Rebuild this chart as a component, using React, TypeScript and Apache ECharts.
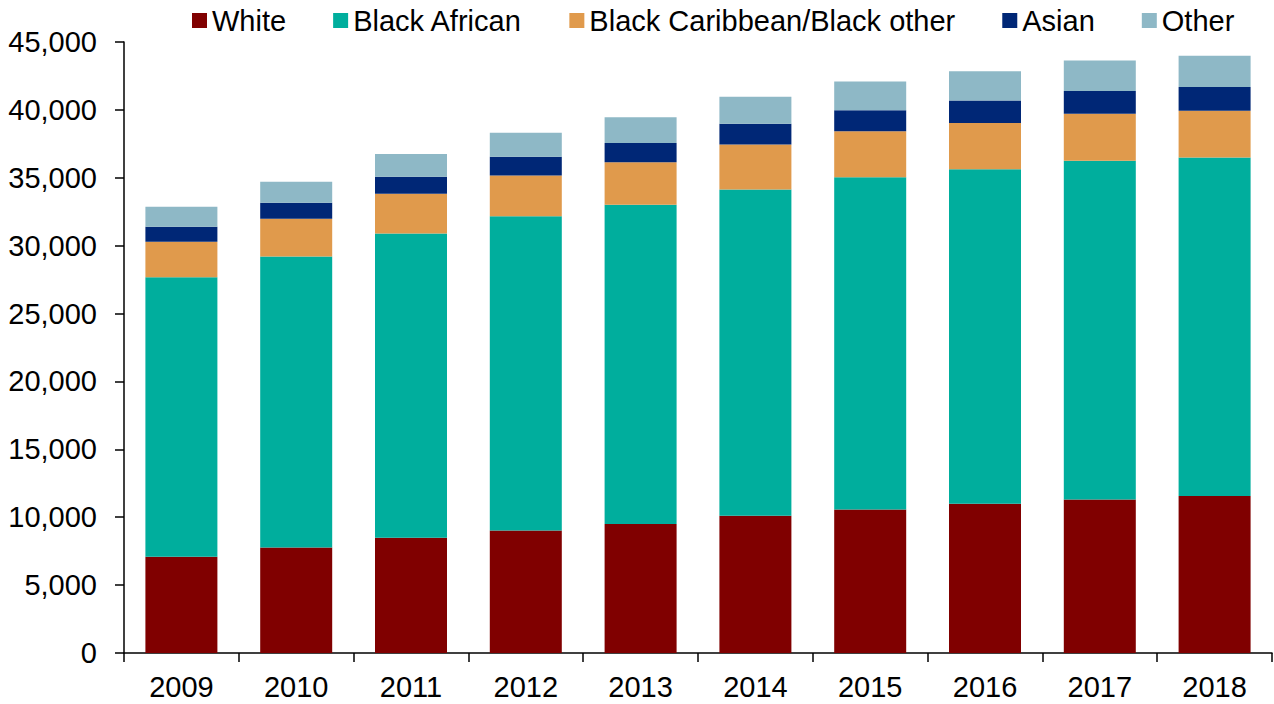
import React, { useEffect, useRef } from "react";
import * as echarts from "echarts";

const years = ["2009", "2010", "2011", "2012", "2013", "2014", "2015", "2016", "2017", "2018"];
const white = [7080, 7770, 8480, 9020, 9510, 10100, 10560, 11000, 11300, 11570];
const blackAfrican = [20590, 21430, 22420, 23140, 23500, 24040, 24470, 24630, 24950, 24920];
const blackCaribbean = [2620, 2790, 2920, 3010, 3140, 3310, 3400, 3410, 3460, 3440];
const asian = [1110, 1170, 1250, 1370, 1420, 1520, 1540, 1650, 1690, 1760];
const other = [1470, 1540, 1690, 1770, 1890, 1990, 2130, 2150, 2230, 2300];

const seriesNames = ["White", "Black African", "Black Caribbean/Black other", "Asian", "Other"];
const seriesData = [white, blackAfrican, blackCaribbean, asian, other];
const colors = ["#800000", "#00AE9D", "#E09A4C", "#002776", "#8EB8C6"];

const FONT = "'Liberation Sans', Arial, Helvetica, sans-serif";

export default function App() {
  const ref = useRef<HTMLDivElement>(null);
  useEffect(() => {
    if (!ref.current) return;
    const chart = echarts.init(ref.current, null, { renderer: "svg" });
    chart.setOption({
      animation: false,
      color: colors,
      textStyle: { fontFamily: FONT },
      legend: {
        left: 187,
        top: 1,
        itemWidth: 15,
        itemHeight: 15,
        itemGap: 47,
        icon: "rect",
        textStyle: { fontSize: 29, color: "#000", fontFamily: FONT },
        data: seriesNames,
      },
      grid: { left: 124, right: 2, top: 42, bottom: 51, containLabel: false },
      xAxis: {
        type: "category",
        data: years,
        boundaryGap: true,
        axisLine: { lineStyle: { color: "#000", width: 1.5 } },
        axisTick: { show: true, length: 9, lineStyle: { color: "#000", width: 1.5 } },
        axisLabel: { fontSize: 29, color: "#000", margin: 19, fontFamily: FONT },
      },
      yAxis: {
        type: "value",
        min: 0,
        max: 45000,
        interval: 5000,
        axisLine: { show: true, lineStyle: { color: "#000", width: 1.5 } },
        axisTick: { show: true, length: 9, lineStyle: { color: "#000", width: 1.5 } },
        splitLine: { show: false },
        axisLabel: {
          fontSize: 29,
          color: "#000",
          margin: 27,
          fontFamily: FONT,
          formatter: (v: number) => v.toLocaleString("en-US"),
        },
      },
      series: seriesNames.map((name, i) => ({
        name,
        type: "bar",
        stack: "total",
        barWidth: 72,
        data: seriesData[i],
        itemStyle: { color: colors[i] },
      })),
    });
    return () => chart.dispose();
  }, []);
  return (
    <div
      ref={ref}
      style={{ position: "fixed", left: 0, top: 0, width: 1274, height: 704, background: "#fff" }}
    />
  );
}
